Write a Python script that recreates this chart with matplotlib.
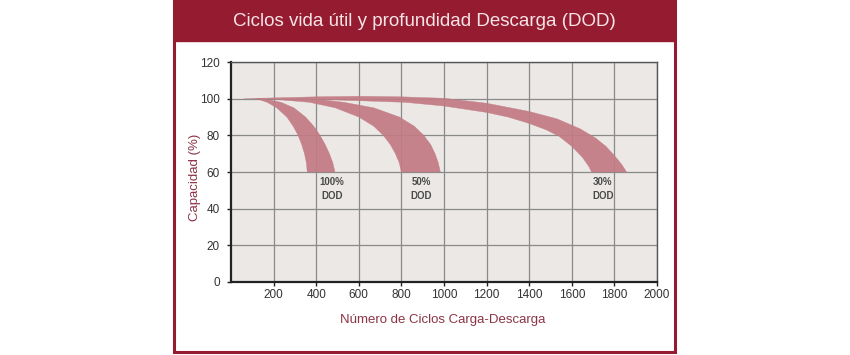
import numpy as np
import matplotlib.pyplot as plt
from matplotlib.patches import Rectangle

# edges of each band (cycles, capacity %)
dod100_in_x = [120, 170, 215, 262, 292, 315, 332, 345, 354, 358]
dod100_in_y = [100, 98, 95, 90, 85, 80, 75, 70, 65, 60]
dod100_out_x = [150, 235, 295, 350, 388, 418, 442, 462, 478, 488]
dod100_out_y = [100, 98, 95, 90, 85, 80, 75, 70, 65, 60]

dod50_in_x = [170, 370, 490, 600, 670, 715, 748, 772, 790, 800]
dod50_in_y = [100, 98, 95, 90, 85, 80, 75, 70, 65, 60]
dod50_out_x = [220, 420, 530, 670, 790, 860, 905, 937, 958, 973, 983]
dod50_out_y = [100, 99.5, 98, 95, 90, 85, 80, 75, 70, 65, 60]

dod30_in_x = [250, 500, 820, 1000, 1200, 1300, 1400, 1480, 1540, 1600, 1650, 1680, 1693]
dod30_in_y = [100, 99.3, 98, 96, 92.5, 90, 86.5, 83, 79.5, 74, 68, 63, 60]
dod30_out_x = [60, 400, 600, 800, 1000, 1200, 1400, 1530, 1640, 1712, 1760, 1800, 1835, 1857]
dod30_out_y = [100, 101, 101.3, 101, 100.2, 97.5, 93, 89, 83.5, 78.5, 74, 69, 64, 60]

bands = [
    (dod100_in_x, dod100_in_y, dod100_out_x, dod100_out_y),
    (dod50_in_x, dod50_in_y, dod50_out_x, dod50_out_y),
    (dod30_in_x, dod30_in_y, dod30_out_x, dod30_out_y),
]
band_labels = ["100%\nDOD", "50%\nDOD", "30%\nDOD"]
label_x = [474, 892, 1746]
label_y = [51, 51, 51]

x_ticks = [200, 400, 600, 800, 1000, 1200, 1400, 1600, 1800, 2000]
y_ticks = [0, 20, 40, 60, 80, 100, 120]

title = "Ciclos vida útil y profundidad Descarga (DOD)"
xlabel = "Número de Ciclos Carga-Descarga"
ylabel = "Capacidad (%)"

plt.rcParams["font.family"] = ["Liberation Sans", "DejaVu Sans"]

maroon = "#951b31"
band_col = "#c27a83"

fig = plt.figure(figsize=(8.5, 3.55), dpi=100)
fig.patch.set_facecolor("white")

# frame and title strip
W, H = 850, 355
fig.patches.append(Rectangle((174 / W, 1 - 352 / H), (675 - 174) / W, 352 / H,
                             transform=fig.transFigure, facecolor="white",
                             edgecolor=maroon, linewidth=2.2, zorder=-2))
fig.patches.append(Rectangle((174 / W, 1 - 41 / H), (675 - 174) / W, 41 / H,
                             transform=fig.transFigure, facecolor=maroon,
                             edgecolor=maroon, linewidth=1, zorder=-1))
fig.text(424 / W, 1 - 21 / H, title, ha="center", va="center",
         color="#f7e4e6", fontsize=13.5)

ax = fig.add_axes([231 / W, 1 - 282 / H, (657 - 231) / W, 220 / H])
ax.set_zorder(2)
ax.set_facecolor("#ebe8e5")
ax.set_xlim(0, 2000)
ax.set_ylim(0, 120)
ax.set_xticks(x_ticks)
ax.set_yticks(y_ticks)
ax.grid(True, color="#8a8a8a", linewidth=0.9, zorder=1)
ax.set_axisbelow(True)

for xi, yi, xo, yo in bands:
    px = list(xo) + list(xi[::-1])
    py = list(yo) + list(yi[::-1])
    ax.fill(px, py, color=band_col, alpha=0.92, linewidth=0.3,
            edgecolor=band_col, joinstyle="round", zorder=2)

for t, x, y in zip(band_labels, label_x, label_y):
    ax.text(x, y, t, ha="center", va="center", fontsize=7, fontweight="bold",
            color="#4a4a4a", linespacing=1.5, zorder=3)

for s in ["top", "right"]:
    ax.spines[s].set_color("#555555")
    ax.spines[s].set_linewidth(1.0)
for s in ["left", "bottom"]:
    ax.spines[s].set_color("#222222")
    ax.spines[s].set_linewidth(1.6)
ax.tick_params(axis="both", direction="out", length=3, width=1, color="#222222",
               labelsize=8.5, labelcolor="#333333", pad=2)
ax.tick_params(axis="y", pad=5)

fig.text(443 / W, 1 - 320 / H, xlabel, ha="center", va="center",
         color="#8b3446", fontsize=9.5)
fig.text(195 / W, 1 - 177 / H, ylabel, ha="center", va="center",
         rotation=90, color="#8b3446", fontsize=9.5)

fig.savefig("out.png", dpi=100)
